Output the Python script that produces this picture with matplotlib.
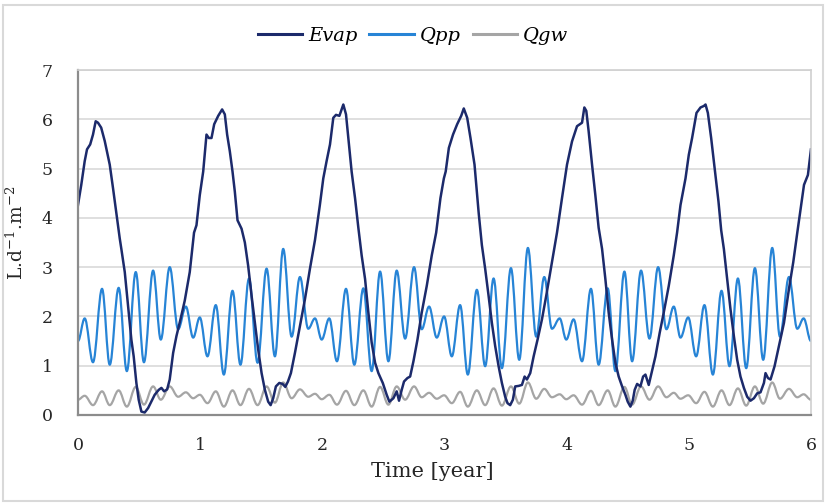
import matplotlib
matplotlib.use("Agg")
import matplotlib.pyplot as plt
from matplotlib.patches import Rectangle, PathPatch
from matplotlib.path import Path
from matplotlib.lines import Line2D

# Evap (time in years, L/d/m2)
evap_t = [0.000, 0.027, 0.055, 0.074, 0.100, 0.123, 0.145, 0.164, 0.190, 0.219,
          0.260, 0.287, 0.320, 0.342, 0.355, 0.383, 0.410, 0.437, 0.456, 0.478,
          0.497, 0.519, 0.546, 0.574, 0.600, 0.628, 0.661, 0.683, 0.705, 0.730,
          0.751, 0.779, 0.806, 0.839, 0.874, 0.915, 0.950, 0.970, 0.997, 1.025,
          1.052, 1.071, 1.093, 1.115, 1.148, 1.180, 1.202, 1.221, 1.243, 1.265,
          1.284, 1.306, 1.339, 1.366, 1.393, 1.421, 1.448, 1.475, 1.503, 1.530,
          1.557, 1.577, 1.598, 1.620, 1.648, 1.675, 1.697, 1.719, 1.743, 1.776,
          1.817, 1.858, 1.899, 1.940, 1.980, 2.008, 2.035, 2.063, 2.090, 2.112,
          2.140, 2.172, 2.194, 2.213, 2.240, 2.268, 2.295, 2.322, 2.350, 2.377,
          2.404, 2.432, 2.459, 2.495, 2.527, 2.549, 2.582, 2.609, 2.628, 2.650,
          2.669, 2.697, 2.719, 2.746, 2.779, 2.814, 2.855, 2.896, 2.932, 2.967,
          2.995, 3.010, 3.036, 3.070, 3.104, 3.137, 3.158, 3.186, 3.213, 3.246,
          3.280, 3.306, 3.333, 3.361, 3.388, 3.415, 3.443, 3.470, 3.497, 3.516,
          3.538, 3.560, 3.579, 3.607, 3.634, 3.656, 3.675, 3.702, 3.730, 3.762,
          3.798, 3.833, 3.866, 3.899, 3.921, 3.962, 4.003, 4.044, 4.085, 4.126,
          4.145, 4.161, 4.180, 4.208, 4.235, 4.262, 4.290, 4.317, 4.344, 4.372,
          4.399, 4.426, 4.454, 4.481, 4.500, 4.522, 4.541, 4.557, 4.577, 4.604,
          4.626, 4.645, 4.672, 4.699, 4.727, 4.762, 4.795, 4.836, 4.877, 4.904,
          4.932, 4.973, 5.000, 5.027, 5.063, 5.096, 5.123, 5.137, 5.156, 5.183,
          5.208, 5.243, 5.265, 5.287, 5.314, 5.341, 5.369, 5.396, 5.423, 5.451,
          5.478, 5.505, 5.533, 5.560, 5.587, 5.615, 5.628, 5.648, 5.669, 5.702,
          5.738, 5.779, 5.820, 5.855, 5.888, 5.943, 5.975, 6.000]
evap = [4.26, 4.67, 5.15, 5.39, 5.49, 5.69, 5.96, 5.93, 5.83, 5.56,
        5.08, 4.60, 3.99, 3.58, 3.37, 2.90, 2.22, 1.53, 1.19, 0.65,
        0.31, 0.07, 0.05, 0.14, 0.27, 0.41, 0.51, 0.55, 0.48, 0.52,
        0.72, 1.26, 1.60, 1.94, 2.32, 2.90, 3.70, 3.85, 4.46, 4.94,
        5.69, 5.62, 5.62, 5.90, 6.07, 6.20, 6.10, 5.69, 5.35, 4.94,
        4.53, 3.95, 3.78, 3.50, 3.03, 2.42, 1.87, 1.33, 0.85, 0.51,
        0.27, 0.20, 0.34, 0.58, 0.65, 0.63, 0.57, 0.68, 0.85, 1.26,
        1.81, 2.35, 2.97, 3.55, 4.26, 4.80, 5.15, 5.49, 6.03, 6.09,
        6.07, 6.30, 6.10, 5.62, 4.94, 4.40, 3.80, 3.24, 2.76, 2.08,
        1.47, 1.06, 0.85, 0.65, 0.41, 0.27, 0.34, 0.48, 0.29, 0.51,
        0.68, 0.75, 0.78, 1.09, 1.53, 2.08, 2.62, 3.24, 3.70, 4.40,
        4.80, 4.94, 5.42, 5.69, 5.90, 6.07, 6.22, 6.03, 5.62, 5.08,
        4.10, 3.45, 2.97, 2.42, 1.87, 1.40, 0.99, 0.65, 0.37, 0.24,
        0.20, 0.31, 0.58, 0.59, 0.61, 0.78, 0.72, 0.85, 1.19, 1.53,
        1.94, 2.42, 2.90, 3.37, 3.70, 4.40, 5.08, 5.55, 5.86, 5.93,
        6.24, 6.17, 5.76, 5.08, 4.46, 3.80, 3.37, 2.76, 2.08, 1.53,
        1.06, 0.78, 0.58, 0.41, 0.27, 0.17, 0.29, 0.51, 0.63, 0.58,
        0.78, 0.82, 0.61, 0.89, 1.19, 1.67, 2.08, 2.62, 3.24, 3.70,
        4.26, 4.80, 5.28, 5.62, 6.13, 6.24, 6.27, 6.30, 6.13, 5.62,
        5.08, 4.33, 3.75, 3.37, 2.76, 2.15, 1.60, 1.12, 0.78, 0.55,
        0.37, 0.29, 0.34, 0.44, 0.46, 0.65, 0.85, 0.75, 0.72, 0.99,
        1.40, 1.87, 2.56, 3.10, 3.70, 4.67, 4.87, 5.39]

# Qpp / Qgw turning points (same times for both)
q_t = [0.000, 0.055, 0.123, 0.197, 0.260, 0.333, 0.400, 0.473, 0.540, 0.615,
       0.678, 0.751, 0.820, 0.883, 0.943, 0.997, 1.060, 1.128, 1.194, 1.265,
       1.330, 1.400, 1.470, 1.544, 1.612, 1.680, 1.749, 1.817, 1.885, 1.940,
       1.995, 2.057, 2.120, 2.194, 2.262, 2.336, 2.404, 2.473, 2.541, 2.609,
       2.678, 2.751, 2.814, 2.874, 2.937, 2.997, 3.060, 3.128, 3.191, 3.265,
       3.333, 3.402, 3.470, 3.544, 3.612, 3.683, 3.751, 3.817, 3.880, 3.943,
       3.997, 4.057, 4.126, 4.199, 4.262, 4.336, 4.399, 4.473, 4.536, 4.609,
       4.678, 4.749, 4.817, 4.877, 4.932, 4.995, 5.060, 5.128, 5.197, 5.268,
       5.333, 5.402, 5.470, 5.541, 5.609, 5.683, 5.746, 5.820, 5.888, 5.940,
       6.000]
qpp = [1.50, 1.96, 1.07, 2.56, 1.02, 2.58, 0.89, 2.90, 1.07, 2.93,
       1.53, 3.00, 1.74, 2.20, 1.57, 1.98, 1.19, 2.23, 0.82, 2.52,
       1.02, 2.77, 1.06, 2.97, 1.19, 3.37, 1.59, 2.80, 1.75, 1.96,
       1.53, 1.96, 1.09, 2.56, 1.02, 2.57, 0.89, 2.91, 1.09, 2.93,
       1.55, 3.00, 1.74, 2.20, 1.57, 2.00, 1.19, 2.23, 0.82, 2.54,
       0.99, 2.77, 0.95, 2.98, 1.12, 3.39, 1.59, 2.80, 1.75, 1.96,
       1.53, 1.94, 1.09, 2.56, 1.02, 2.57, 0.89, 2.91, 1.09, 2.93,
       1.55, 3.00, 1.74, 2.20, 1.57, 1.98, 1.19, 2.23, 0.82, 2.52,
       0.99, 2.77, 0.95, 2.98, 1.12, 3.39, 1.59, 2.80, 1.75, 1.96,
       1.50]
qgw = [0.31, 0.39, 0.20, 0.48, 0.20, 0.50, 0.17, 0.57, 0.21, 0.58,
       0.31, 0.58, 0.37, 0.46, 0.34, 0.41, 0.24, 0.48, 0.17, 0.50,
       0.20, 0.53, 0.20, 0.58, 0.25, 0.66, 0.34, 0.52, 0.37, 0.43,
       0.32, 0.41, 0.21, 0.49, 0.20, 0.50, 0.17, 0.57, 0.21, 0.58,
       0.31, 0.58, 0.36, 0.45, 0.33, 0.40, 0.24, 0.47, 0.17, 0.50,
       0.20, 0.54, 0.19, 0.58, 0.23, 0.66, 0.33, 0.53, 0.36, 0.42,
       0.32, 0.40, 0.21, 0.49, 0.20, 0.50, 0.17, 0.57, 0.21, 0.58,
       0.31, 0.58, 0.36, 0.45, 0.33, 0.40, 0.24, 0.47, 0.17, 0.50,
       0.20, 0.54, 0.19, 0.58, 0.23, 0.66, 0.33, 0.53, 0.36, 0.42,
       0.31]

c_evap = '#1c2a6b'
c_qpp = '#2784d6'
c_qgw = '#a5a5a5'


def smooth_path(t, y):
    # bezier segments with flat tangents at each turning point (smoothed line)
    verts = [(t[0], y[0])]
    codes = [Path.MOVETO]
    for i in range(1, len(t)):
        d = (t[i] - t[i - 1]) * 0.364
        verts += [(t[i - 1] + d, y[i - 1]), (t[i] - d, y[i]), (t[i], y[i])]
        codes += [Path.CURVE4] * 3
    return Path(verts, codes)


plt.rcParams['font.family'] = 'DejaVu Serif'
plt.rcParams['mathtext.fontset'] = 'dejavuserif'

fig = plt.figure(figsize=(8.26, 5.04), dpi=100)
ax = fig.add_axes([0.0944, 0.1766, 0.8874, 0.6845])

ax.plot(evap_t, evap, color=c_evap, linewidth=1.8, solid_joinstyle='round')
ax.add_patch(PathPatch(smooth_path(q_t, qpp), facecolor='none', edgecolor=c_qpp,
                       linewidth=1.6, joinstyle='round'))
ax.add_patch(PathPatch(smooth_path(q_t, qgw), facecolor='none', edgecolor=c_qgw,
                       linewidth=1.6, joinstyle='round'))

ax.set_xlim(0, 6.0)
ax.set_ylim(0, 7)
ax.set_xticks(range(7))
ax.set_yticks(range(8))
ax.grid(axis='y', color='#d9d9d9', linewidth=1.2)
ax.set_axisbelow(True)
ax.tick_params(length=0, labelsize=12.5, colors='#262626')
ax.tick_params(axis='x', pad=16)
ax.tick_params(axis='y', pad=18)
for s in ['top', 'right']:
    ax.spines[s].set_color('#d0d0d0')
    ax.spines[s].set_linewidth(1.2)
for s in ['left', 'bottom']:
    ax.spines[s].set_color('#8c8c8c')
    ax.spines[s].set_linewidth(1.6)

ax.set_xlabel('Time [year]', fontsize=15, color='#262626')
ax.xaxis.set_label_coords(0.483, -0.135)
ax.set_ylabel(r'L.d$^{\mathregular{-1}}$.m$^{\mathregular{-2}}$', fontsize=13.5, color='#262626')
ax.yaxis.set_label_coords(-0.07, 0.528)

handles = [Line2D([], [], color=c_evap, linewidth=2.2),
           Line2D([], [], color=c_qpp, linewidth=2.2),
           Line2D([], [], color=c_qgw, linewidth=2.2)]
fig.legend(handles, ['Evap', 'Qpp', 'Qgw'], loc='center', bbox_to_anchor=(0.5, 1 - 36 / 504),
           ncol=3, frameon=False, prop={'style': 'italic', 'size': 14}, handlelength=2.3,
           handletextpad=0.3, columnspacing=0.6)

fig.patches.append(Rectangle((0.004, 0.006), 0.992, 0.984, transform=fig.transFigure,
                             fill=False, edgecolor='#d9d9d9', linewidth=1.5))

fig.savefig('out.png', dpi=100)
